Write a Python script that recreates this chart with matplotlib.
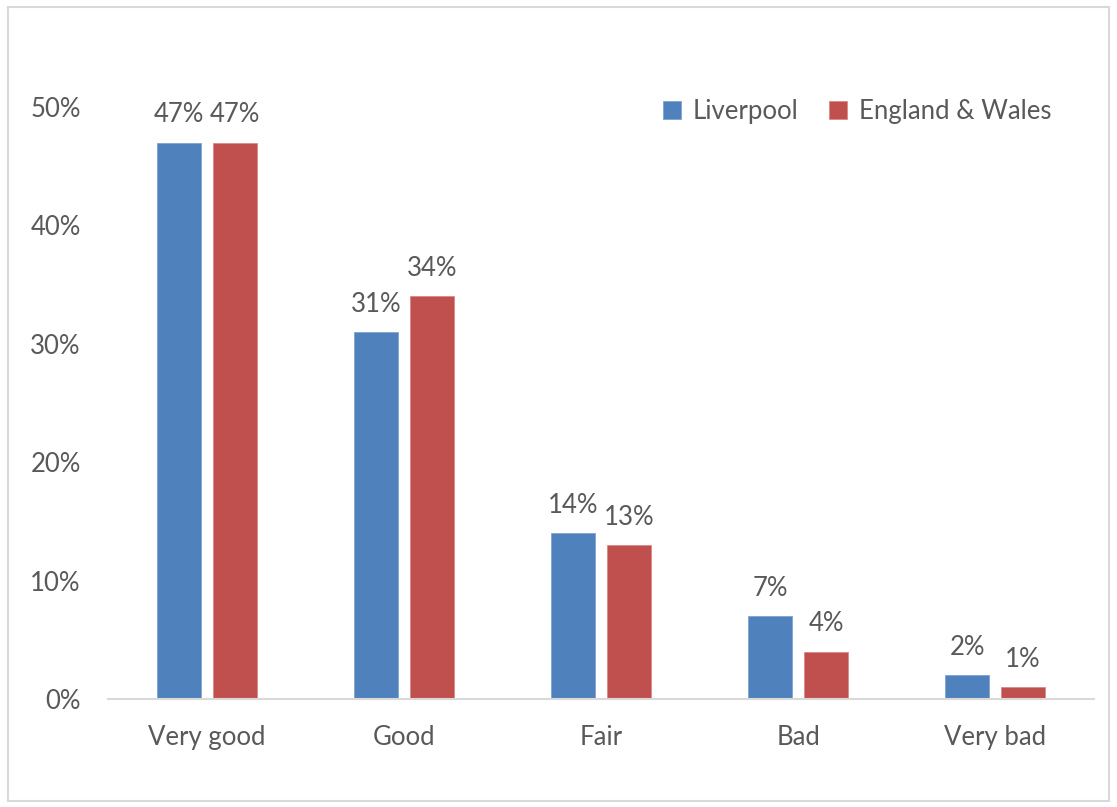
import matplotlib.pyplot as plt
import matplotlib.patches as mpatches
import numpy as np

categories = ['Very good', 'Good', 'Fair', 'Bad', 'Very bad']
liverpool = [47, 31, 14, 7, 2]
england_wales = [47, 34, 13, 4, 1]
yticks = [0, 10, 20, 30, 40, 50]

plt.rcParams['font.family'] = ['Lato', 'DejaVu Sans']
txt_color = '#595959'
blue = '#4F81BD'
red = '#C0504D'
fs = 18.5

fig = plt.figure(figsize=(11.17, 8.07), dpi=100)
ax = fig.add_axes([0.0971, 0.1338, 0.882, 0.7336])

x = np.arange(len(categories))
w = 0.223
off = 0.142
b1 = ax.bar(x - off, liverpool, w, color=blue, edgecolor='#7FA3D0', linewidth=0.6, label='Liverpool')
b2 = ax.bar(x + off, england_wales, w, color=red, edgecolor='#D98A88', linewidth=0.6, label='England & Wales')

for bars, vals in [(b1, liverpool), (b2, england_wales)]:
    for r, v in zip(bars, vals):
        ax.annotate(f'{v}%', (r.get_x() + r.get_width() / 2, v), xytext=(0, 11),
                    textcoords='offset points', ha='center', va='bottom',
                    fontsize=fs, color=txt_color, annotation_clip=False)

ax.set_xlim(-0.5, len(categories) - 0.5)
ax.set_ylim(0, 50)
ax.set_yticks(yticks)
ax.set_yticklabels([f'{t}%' for t in yticks])
ax.set_xticks(x)
ax.set_xticklabels(categories)
ax.tick_params(axis='y', length=0, pad=20, labelsize=fs, labelcolor=txt_color)
ax.tick_params(axis='x', length=0, pad=19, labelsize=fs, labelcolor=txt_color)

for s in ['top', 'right', 'left']:
    ax.spines[s].set_visible(False)
ax.spines['bottom'].set_color('#D9D9D9')
ax.spines['bottom'].set_linewidth(1.5)

leg = fig.legend(loc='upper right', bbox_to_anchor=(0.962, 0.906), ncol=2, frameon=False,
                 fontsize=fs, handlelength=0.7, handleheight=0.7, handletextpad=0.45,
                 columnspacing=1.2)
for t in leg.get_texts():
    t.set_color(txt_color)

# border around the chart
fig.patches.append(mpatches.Rectangle((0.007, 0.008), 0.986, 0.983, transform=fig.transFigure,
                                      fill=False, edgecolor='#D9D9D9', linewidth=1.5))

fig.savefig('out.png', dpi=100)
